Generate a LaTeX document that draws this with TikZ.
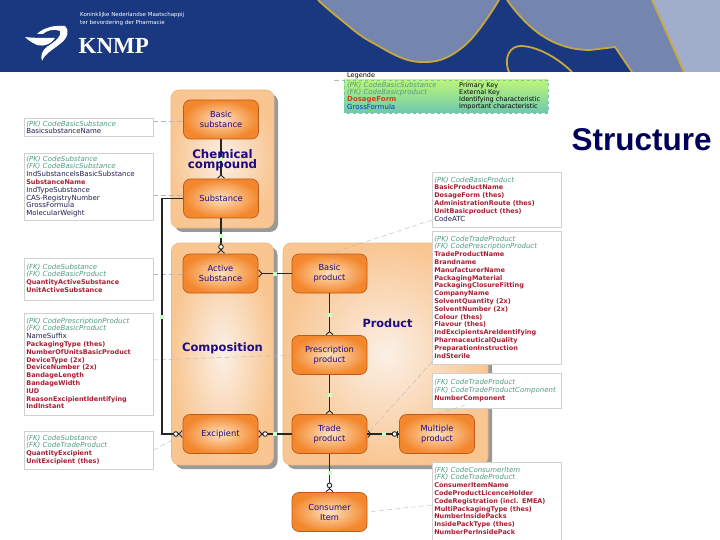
\documentclass[tikz,border=0pt]{standalone}
\usepackage{fontspec}
\setmainfont{DejaVu Sans}
\newfontfamily\arialf{Liberation Sans}
\newfontfamily\timesf{Liberation Serif}
\usetikzlibrary{arrows.meta,shadows}
\definecolor{hdrblue}{RGB}{26,56,128}
\definecolor{hdrgrey}{RGB}{116,133,176}
\definecolor{hdrlight}{RGB}{160,174,203}
\definecolor{hdrgold}{RGB}{200,168,60}
\definecolor{navytxt}{RGB}{30,10,130}
\definecolor{keygreen}{RGB}{80,155,130}
\definecolor{redtxt}{RGB}{170,30,50}
\definecolor{darktxt}{RGB}{30,30,80}
\definecolor{panelout}{RGB}{249,198,146}
\definecolor{panelin}{RGB}{250,240,230}
\definecolor{entout}{RGB}{243,135,45}
\definecolor{entin}{RGB}{254,226,190}
\definecolor{entline}{RGB}{190,90,25}
\definecolor{legtop}{RGB}{190,245,120}
\definecolor{legbot}{RGB}{110,200,175}
\newcommand{\pk}[1]{{\fontsize{7}{7.8}\selectfont\itshape\color{keygreen}#1}}
\newcommand{\rd}[1]{{\fontsize{6.5}{7.8}\selectfont\bfseries\color{redtxt}#1}}
\newcommand{\nv}[1]{{\fontsize{7}{7.8}\selectfont\color{darktxt}#1}}
\newcommand{\tpad}[1]{\rule{0pt}{\dimexpr5.3pt+#1pt\relax}}
\newcommand{\bpad}[1]{\rule[\dimexpr-1.3pt-#1pt\relax]{0pt}{\dimexpr1.3pt+#1pt\relax}}
\tikzset{
  panel/.style={rounded corners=8pt,draw=panelout!80!brown,line width=.6pt,shade,inner color=panelin,outer color=panelout,
    drop shadow={shadow xshift=4pt,shadow yshift=-4pt,fill=black!40,opacity=1}},
  entity/.style={rounded corners=7pt,draw=entline,line width=.7pt,shade,inner color=entin,outer color=entout,
    minimum width=75pt,minimum height=39pt,inner sep=0pt,align=center,text=navytxt,font=\fontsize{8.3}{10}\selectfont},
  area/.style={text=navytxt,align=center,font=\fontsize{11.8}{10.5}\selectfont\bfseries,inner sep=0pt},
  listbox/.style={draw=black!18,line width=.6pt,fill=white,anchor=north west,inner xsep=2pt,inner ysep=2.5pt,align=left,
    minimum width=129pt,text width=125pt,font=\fontsize{7}{7.8}\selectfont},
  rel/.style={line width=1.1pt,black!85},
  leader/.style={black!28,line width=.4pt,dash pattern=on 5pt off 3pt},
  tag/.style={fill=green!15!white,draw=green!25!white,line width=.2pt,minimum size=3pt,inner sep=0pt},
  crow/.style={-{Straight Barb[reversed,length=3pt,width=7pt,line width=.9pt]}},
  crowo/.style={-{Circle[open,fill=white,length=5.5pt,line width=.9pt,sep=0pt]Straight Barb[reversed,length=3pt,width=7pt,line width=.9pt]}},
  teeo/.style={-{Circle[open,fill=white,length=5.5pt,line width=.9pt]Bar[width=7pt,line width=.9pt,sep=1pt]}},
}
\begin{document}
\begin{tikzpicture}[x=1pt,y=-1pt]
\useasboundingbox (0,0) rectangle (720,540);
% header
\begin{scope}
\clip (0,0) rectangle (720,72);
\fill[hdrblue] (0,0) rectangle (720,72);
\fill[hdrgrey] (318,-1) -- plot[smooth,tension=.7] coordinates {(318,0)(340,19)(373,43)(420,62)(463,47)(499,0)} -- cycle;
\fill[hdrgrey] (507,0) .. controls (525,25) and (550,50) .. (590,50) -- (615,47) -- (632,72) -- (684,72) -- (652,0) -- cycle;
\fill[hdrlight] (652,0) -- (684,72) -- (720,72) -- (720,0) -- cycle;
\draw[hdrgold,line width=1.8pt] plot[smooth,tension=.7] coordinates {(318,0)(340,19)(373,43)(420,62)(463,47)(499,0)};
\draw[hdrgold,line width=1.8pt] (507,0) .. controls (525,25) and (550,50) .. (590,50) -- (615,47) -- (632,72);
\draw[hdrgold,line width=1.8pt] (652,0) -- (684,72);
\draw[hdrgold,line width=1.8pt] (509,72) .. controls (503,58) and (510,45) .. (522,46) .. controls (540,47) and (560,60) .. (572,72);
% logo
\fill[white] (25,37) .. controls (32,38) and (44,38) .. (55,38) .. controls (50,46) and (40,47) .. (35,44) .. controls (31,42) and (28,40) .. (25,37) -- cycle;
\fill[white] (37,34) .. controls (44,27) and (56,25) .. (65,26) .. controls (70,30) and (68,38) .. (60,44) .. controls (52,50) and (44,55) .. (42,61) .. controls (40,56) and (42,50) .. (48,46) .. controls (56,41) and (62,36) .. (60,31) .. controls (54,28) and (46,31) .. (43,34) -- cycle;
\end{scope}
\node[anchor=north west,inner sep=0pt,text=white,align=left,font=\fontsize{5.5}{7.3}\selectfont] (kname) at (80,12.5) {Koninklijke Nederlandse Maatschappij\\ter bevordering der Pharmacie};
\node[anchor=west,inner sep=0pt,text=white,font=\timesf\bfseries\fontsize{23}{24}\selectfont] (kmp) at (78.5,45.5) {KNMP};
\node[anchor=west,inner sep=0pt,text={rgb,255:red,0;green,0;blue,90},font=\arialf\bfseries\fontsize{31.5}{32}\selectfont] (title) at (571.5,140) {Structure};

% legend
\node[anchor=west,inner sep=0pt,font=\fontsize{6.5}{7}\selectfont,text=black] (legt) at (347,76) {Legende};
\path[top color=legtop,bottom color=legbot,draw=legbot,dashed,line width=.3pt] (344,80) rectangle (548,113);
\node[anchor=north west,inner sep=0pt,align=left,font=\fontsize{7}{6.8}\selectfont] (legl) at (347,81.5) {\rule{0pt}{6pt}\pk{(PK) CodeBasicSubstance}\\\pk{(FK) CodeBasicproduct}\\{\bfseries\color[RGB]{200,70,30}DosageForm}\\{\color{teal!40!blue}GrossFormula}};
\node[anchor=north west,inner sep=0pt,align=left,font=\fontsize{6.5}{6.8}\selectfont] (legr) at (459,81.5) {\rule{0pt}{6pt}Primary Key\\External Key\\Identifying characteristic\\Important characteristic};
\coordinate (legc) at (334,80);
\coordinate (lega) at (344,80);
\draw[leader] (legc) -- (lega);

% panels
\node[panel,minimum width=103pt,minimum height=138pt] (pchem) at (222.5,159) {};
\node[panel,minimum width=102pt,minimum height=222pt] (pcomp) at (222.5,354) {};
\node[panel,minimum width=205pt,minimum height=222pt] (pprod) at (385.5,354) {};

% entities
\node[entity] (bs) at (221,119.5) {Basic\\substance};
\node[entity] (sub) at (221,198.5) {Substance};
\node[entity] (as) at (220.5,273.5) {Active\\Substance};
\node[entity] (bp) at (329.5,273.5) {Basic\\product};
\node[entity] (pp) at (329.5,355) {Prescription\\product};
\node[entity] (tp) at (329.5,434) {Trade\\product};
\node[entity] (ex) at (220.5,434) {Excipient};
\node[entity] (mp) at (437,434) {Multiple\\product};
\node[entity] (ci) at (329.5,512) {Consumer\\Item};

% lists
\node[listbox] (a) at (24,118) {\pk{(PK) CodeBasicSubstance}\\\nv{BasicsubstanceName}};
\node[listbox] (b) at (24,153) {\pk{(PK) CodeSubstance}\\\pk{(FK) CodeBasicSubstance}\\\nv{IndSubstanceIsBasicSubstance}\\\rd{SubstanceName}\\\nv{IndTypeSubstance}\\\nv{CAS-RegistryNumber}\\\nv{GrossFormula}\\\nv{MolecularWeight}\bpad{1}};
\node[listbox] (c) at (24,258) {\tpad{3}\pk{(FK) CodeSubstance}\\\pk{(FK) CodeBasicProduct}\\\rd{QuantityActiveSubstance}\\\rd{UnitActiveSubstance}\bpad{3.5}};
\node[listbox] (d) at (24,313) {\tpad{2}\pk{(PK) CodePrescriptionProduct}\\\pk{(FK) CodeBasicProduct}\\\nv{NameSuffix}\\\rd{PackagingType (thes)}\\\rd{NumberOfUnitsBasicProduct}\\\rd{DeviceType (2x)}\\\rd{DeviceNumber (2x)}\\\rd{BandageLength}\\\rd{BandageWidth}\\\rd{IUD}\\\rd{ReasonExcipientIdentifying}\\\rd{IndInstant}\bpad{3}};
\node[listbox] (e) at (24,431) {\tpad{1}\pk{(FK) CodeSubstance}\\\pk{(FK) CodeTradeProduct}\\\rd{QuantityExcipient}\\\rd{UnitExcipient (thes)}\bpad{2}};
\node[listbox] (f) at (432,172) {\tpad{2}\pk{(PK) CodeBasicProduct}\\\rd{BasicProductName}\\\rd{DosageForm (thes)}\\\rd{AdministrationRoute (thes)}\\\rd{UnitBasicproduct (thes)}\\\nv{CodeATC}\bpad{2}};
\node[listbox] (g) at (432,231) {\tpad{2}\pk{(PK) CodeTradeProduct}\\\pk{(FK) CodePrescriptionProduct}\\\rd{TradeProductName}\\\rd{Brandname}\\\rd{ManufacturerName}\\\rd{PackagingMaterial}\\\rd{PackagingClosureFitting}\\\rd{CompanyName}\\\rd{SolventQuantity (2x)}\\\rd{SolventNumber (2x)}\\\rd{Colour (thes)}\\\rd{Flavour (thes)}\\\rd{IndExcipientsAreIdentifying}\\\rd{PharmaceuticalQuality}\\\rd{PreparationInstruction}\\\rd{IndSterile}\bpad{2}};
\node[listbox] (h) at (432,373) {\tpad{3.5}\pk{(FK) CodeTradeProduct}\\\pk{(FK) CodeTradeProductComponent}\\\rd{NumberComponent}\bpad{4}};
\node[listbox] (i) at (432,462) {\tpad{2}\pk{(FK) CodeConsumerItem}\\\pk{(FK) CodeTradeProduct}\\\rd{ConsumerItemName}\\\rd{CodeProductLicenceHolder}\\\rd{CodeRegistration (incl. EMEA)}\\\rd{MultiPackagingType (thes)}\\\rd{NumberInsidePacks}\\\rd{InsidePackType (thes)}\\\rd{NumberPerInsidePack}\bpad{10}};

% leaders
\coordinate (la) at (153,121);
\coordinate (lb) at (153,195);
\coordinate (lc) at (153,274);
\coordinate (ld) at (153,360);
\coordinate (lf) at (432,220);
\coordinate (lg) at (432,362);
\coordinate (lh) at (465,405);
\coordinate (li) at (432,505);
\draw[leader] (la) -- (bs.west |- la);
\draw[leader] (lb) -- (sub.west |- lb);
\draw[leader] (lc) -- (as.west |- lc);
\draw[leader] (ld) -- (pp.west);
\draw[leader] (e.east) -- (ex.west);
\draw[leader] (lf) -- (bp.north);
\draw[leader] (lg) -- (tp.east);
\draw[leader] (lh) -- (mp.north);
\draw[leader] (li) -- (ci.east);

% relations
\draw[rel,crow] (bs) -- node[tag,pos=.5]{} (sub);
\draw[rel,crowo] (sub) -- node[tag,pos=.5]{} (as.north -| sub);
\draw[rel,crow] (bp) -- node[tag,pos=.5]{} (as);
\draw[rel,crow] (bp) -- node[tag,pos=.5]{} (pp);
\draw[rel,crow] (pp) -- node[tag,pos=.5]{} (tp);
\draw[rel,crowo] (tp) -- node[tag,pos=.5]{} (ci);
\draw[rel,crowo] (tp) -- node[tag,pos=.5]{} (ex);
\draw[rel,crow] (mp) -- (tp);
\draw[rel,teeo] (tp) -- node[tag,pos=.5]{} (mp);
\coordinate (elbow) at (162,198.5);
\draw[rel,crowo] (sub.west) -- (elbow) |- node[tag,pos=.25]{} (ex.west);

% area labels
\node[area] (lchem) at (222.5,160) {Chemical\\compound};
\node[area,font=\fontsize{11.5}{11}\selectfont\bfseries] (lcomp) at (222.5,348) {Composition};
\node[area,font=\fontsize{11.3}{11}\selectfont\bfseries] (lprod) at (387.5,323) {Product};
\end{tikzpicture}
\end{document}
